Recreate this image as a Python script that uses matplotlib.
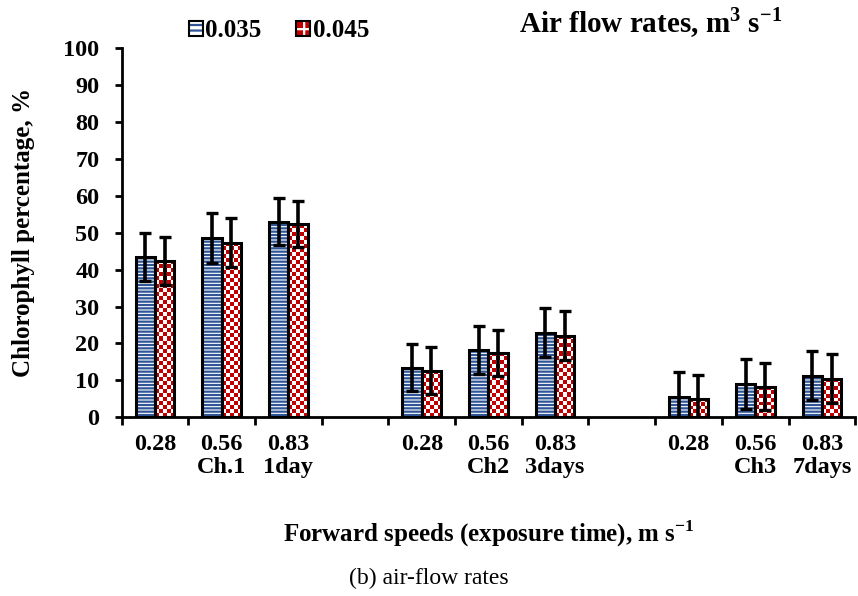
import numpy as np
import matplotlib
matplotlib.use("Agg")
import matplotlib.pyplot as plt
from matplotlib.patches import Patch
from matplotlib.colors import ListedColormap
from matplotlib.legend_handler import HandlerTuple

plt.rcParams['font.family'] = ['Liberation Serif', 'DejaVu Serif']
plt.rcParams['font.weight'] = 'bold'
plt.rcParams['mathtext.fontset'] = 'custom'
plt.rcParams['mathtext.rm'] = 'Liberation Serif:bold'
plt.rcParams['mathtext.bf'] = 'Liberation Serif:bold'
plt.rcParams['hatch.linewidth'] = 1.6

# data
speeds = ['0.28', '0.56', '0.83']
groups = ['Ch.1', 'Ch2', 'Ch3']
days = ['1day', '3days', '7days']
series = ['0.035', '0.045']
rate_035 = [43.4, 48.6, 53.0, 13.4, 18.2, 22.9, 5.6, 9.0, 11.3]
rate_045 = [42.3, 47.3, 52.3, 12.6, 17.4, 22.1, 5.0, 8.3, 10.4]
err_035 = [6.5, 6.7, 6.3, 6.4, 6.4, 6.6, 6.6, 6.7, 6.6]
err_045 = [6.5, 6.6, 6.2, 6.3, 6.3, 6.6, 6.4, 6.3, 6.6]

blue = '#2F5597'
red = '#C00000'

fig = plt.figure(figsize=(8.58, 5.96), dpi=100)
ax = fig.add_axes([0.1418, 0.300, 0.855, 0.619])

# slot positions: 3 speeds per group, one empty slot between groups
pos = np.array([g * 4 + i for g in range(len(groups)) for i in range(len(speeds))])
w = 0.29
xb = pos - w / 2
xr = pos + w / 2

# blue horizontal stripes
ax.bar(xb, rate_035, w, facecolor='white', edgecolor=blue, hatch='-----', linewidth=0, zorder=1)
ax.bar(xb, rate_035, w, fill=False, edgecolor='black', linewidth=2.2, zorder=3)

# red checkerboard: draw bars first to get their extents
rbars = ax.bar(xr, rate_045, w, fill=False, edgecolor='black', linewidth=2.2, zorder=3)

ax_w_px = 0.855 * 858
ax_h_px = 0.619 * 596
sq = 4.0
cmap = ListedColormap(['white', red])
for b in rbars:
    x0 = b.get_x()
    bw = b.get_width()
    bh = b.get_height()
    ncol = max(1, int(round(bw * ax_w_px / 11 / sq)))
    nrow = max(1, int(round(bh * ax_h_px / 100 / sq)))
    ii, jj = np.indices((nrow, ncol))
    board = (ii + jj + 1) % 2
    ax.imshow(board, cmap=cmap, extent=(x0, x0 + bw, 0, bh), origin='lower',
              aspect='auto', interpolation='nearest', zorder=1, vmin=0, vmax=1)

ax.errorbar(xb, rate_035, yerr=err_035, fmt='none', ecolor='black', elinewidth=2.6,
            capsize=4.5, capthick=2.4, zorder=4)
ax.errorbar(xr, rate_045, yerr=err_045, fmt='none', ecolor='black', elinewidth=2.6,
            capsize=4.5, capthick=2.4, zorder=4)

ax.set_xlim(-0.5, 10.5)
ax.set_ylim(0, 100)

# axes styling
for s in ['top', 'right']:
    ax.spines[s].set_visible(False)
for s in ['left', 'bottom']:
    ax.spines[s].set_linewidth(2)

ax.set_yticks(np.arange(0, 101, 10))
ax.tick_params(axis='y', direction='out', length=5, width=2, labelsize=17.5, pad=11)

labels = []
for g in range(len(groups)):
    labels.append(speeds[0])
    labels.append(speeds[1] + '\n' + groups[g])
    labels.append(speeds[2] + '\n' + days[g])
ax.set_xticks(pos)
ax.set_xticklabels(labels, fontsize=17.5, linespacing=1.12, va='top')
ax.set_xticks(np.arange(-0.5, 11, 1), minor=True)
ax.tick_params(axis='x', which='major', length=0, pad=12)
ax.tick_params(axis='x', which='minor', direction='out', length=6, width=2)

ax.set_ylabel('Chlorophyll percentage, %', fontsize=18, fontweight='bold')
ax.yaxis.set_label_coords(-0.118, 0.5)
ax.set_xlabel(r'Forward speeds (exposure time), m s$^{-1}$', fontsize=18, fontweight='bold')
ax.xaxis.set_label_coords(0.5, -0.275)

fig.text(0.50, 0.030, '(b) air-flow rates', ha='center', va='center', fontsize=17, fontweight='normal')
fig.text(0.758, 0.962, r'Air flow rates, m$^{3}$ s$^{-1}$', ha='center', va='center', fontsize=21, fontweight='bold')

h_blue = (Patch(facecolor='white', edgecolor=blue, hatch='---', linewidth=0),
          Patch(facecolor='none', edgecolor='black', linewidth=1.5))
h_red = (Patch(facecolor=red, edgecolor='white', hatch='++', linewidth=0),
         Patch(facecolor='none', edgecolor='black', linewidth=1.5))
fig.legend([h_blue, h_red], series, handler_map={tuple: HandlerTuple(ndivide=1, pad=0)},
           loc='center', bbox_to_anchor=(0.325, 0.948), ncol=2, frameon=False,
           fontsize=18, handlelength=0.55, handleheight=0.55, handletextpad=0.1,
           columnspacing=1.4)

fig.savefig('out.png', dpi=100)
